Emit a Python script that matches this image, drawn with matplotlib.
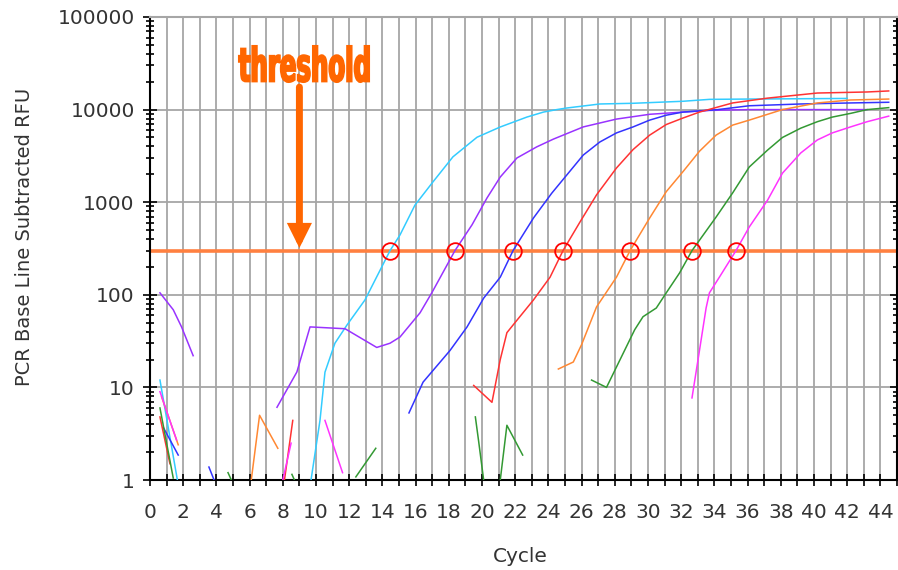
import matplotlib
matplotlib.use('Agg')
import matplotlib.pyplot as plt
import matplotlib.transforms as mtransforms
from matplotlib.ticker import FixedLocator, FixedFormatter, LogLocator, NullFormatter
from matplotlib.textpath import TextPath
from matplotlib.patches import PathPatch
from matplotlib.font_manager import FontProperties

# ---- data (cycle, RFU) ----
threshold = 300
ct_values = [14.46, 18.37, 21.87, 24.88, 28.92, 32.65, 35.3]

cyan_segments = [
    ([0.6, 1.65], [12, 1.0]),
    ([9.7, 10.24, 10.54, 11.14, 11.86, 12.95, 14.46, 15.06, 15.96, 17.05, 18.25,
      19.7, 21.08, 22.7, 23.7, 24.5, 25.1, 27.1, 29.1, 32.1, 33.7, 36.1, 42.0],
     [1.0, 4.4, 14.6, 30, 47, 88, 300, 443, 930, 1660, 3090,
      5030, 6470, 8300, 9400, 10000, 10400, 11500, 11700, 12300, 12900, 13000, 13200]),
]
purple_segments = [
    ([0.6, 1.4, 1.9, 2.6], [105, 69, 45, 22]),
    ([7.65, 8.85, 9.64, 11.75, 13.66, 14.46, 15.06, 16.27, 17.0, 18.37, 19.4,
      20.3, 21.1, 22.1, 23.3, 24.3, 26.1, 28.1, 30.1, 32.1, 33.7, 36.1, 40.2, 43.2],
     [6.1, 14.7, 45, 43, 27, 30, 35, 64, 107, 300, 570,
      1110, 1870, 3000, 3960, 4800, 6500, 7900, 8900, 9400, 9800, 10000, 10000, 10000]),
]
blue_segments = [
    ([0.8, 1.7], [3.7, 1.86]),
    ([3.55, 3.86], [1.38, 1.0]),
    ([15.6, 16.45, 18.07, 19.1, 20.1, 21.1, 21.87, 23.1, 24.2, 25.1, 26.1, 27.1,
      28.1, 29.1, 30.1, 31.1, 32.1, 34.2, 36.1, 39.2, 42.2, 44.5],
     [5.3, 11.4, 25, 45, 92, 155, 300, 675, 1250, 1960, 3230, 4470,
      5600, 6500, 7700, 8700, 9400, 10000, 11000, 11500, 11800, 12000]),
]
red_segments = [
    ([0.6, 1.2], [4.8, 1.5]),
    ([8.1, 8.6], [1.0, 4.4]),
    ([19.5, 20.6, 21.1, 21.5, 22.1, 23.1, 24.1, 24.88, 25.9, 26.9, 28.1, 29.1,
      30.1, 31.1, 32.1, 33.1, 35.1, 37.2, 40.2, 43.2, 44.5],
     [10.5, 6.9, 20, 39, 53, 88, 155, 300, 610, 1200, 2340, 3700,
      5300, 6900, 8100, 9400, 11800, 13300, 15100, 15500, 15900]),
]
orange_segments = [
    ([0.7, 1.7], [7.9, 2.4]),
    ([6.1, 6.6, 7.7], [1.0, 5.0, 2.2]),
    ([24.6, 25.5, 26.0, 26.9, 28.1, 28.92, 30.1, 31.1, 32.1, 33.1, 34.1, 35.1,
      36.1, 38.1, 40.2, 42.2, 44.5],
     [15.8, 18.8, 29, 74, 155, 300, 675, 1300, 2130, 3550, 5300, 6800,
      7700, 10000, 11800, 12700, 13000]),
]
green_segments = [
    ([0.6, 1.4], [6.0, 1.05]),
    ([4.7, 4.9], [1.2, 1.0]),
    ([8.55, 8.7], [1.15, 1.0]),
    ([12.4, 13.6], [1.08, 2.2]),
    ([19.6, 19.8, 20.1], [4.8, 2.6, 1.0]),
    ([21.1, 21.5, 22.45], [1.0, 3.9, 1.86]),
    ([26.6, 27.5, 28.1, 29.2, 29.7, 30.5, 31.1, 31.9, 32.65, 34.1, 35.1, 36.1,
      37.2, 38.1, 39.2, 40.2, 41.1, 42.2, 43.2, 44.5],
     [12, 10, 16.6, 42, 58, 72, 105, 172, 300, 690, 1260, 2400,
      3650, 5000, 6300, 7400, 8300, 9100, 10000, 10500]),
]
magenta_segments = [
    ([0.6, 1.6], [9.0, 2.7]),
    ([8.0, 8.5], [1.0, 2.5]),
    ([10.54, 11.6], [4.4, 1.2]),
    ([32.65, 33.1, 33.5, 33.7, 34.3, 35.3, 36.1, 37.2, 38.1, 39.2, 40.2, 41.1,
      42.2, 43.2, 44.5],
     [7.7, 25, 72, 105, 155, 300, 540, 1050, 2060, 3400, 4700, 5600,
      6500, 7400, 8500]),
]

x_major = list(range(0, 45, 2))
y_major = [1, 10, 100, 1000, 10000, 100000]
y_labels = ['1', '10', '100', '1000', '10000', '100000']

samples = [
    (cyan_segments, '#33ccff'),
    (purple_segments, '#9933ff'),
    (blue_segments, '#3333ff'),
    (red_segments, '#ff3333'),
    (orange_segments, '#ff8833'),
    (green_segments, '#339933'),
    (magenta_segments, '#ff33ff'),
]

W, H = 898, 570
fig = plt.figure(figsize=(W / 100, H / 100), dpi=100)
ax = fig.add_axes([150 / W, 90 / H, 747 / W, 463 / H])
ax.set_yscale('log')
ax.set_xlim(0, 45)
ax.set_ylim(1, 100000)

# grid: every cycle vertically, every decade horizontally
for c in range(1, 45):
    ax.axvline(c, color='#a6a6a6', lw=1.3, zorder=0)
for v in y_major[1:]:
    ax.axhline(v, color='#a6a6a6', lw=1.3, zorder=0)

ax.axhline(threshold, color='#ff8040', lw=2.6, zorder=2)

for segs, col in samples:
    for xs, ys in segs:
        ax.plot(xs, ys, color=col, lw=1.1, zorder=3)

ax.plot(ct_values, [threshold] * len(ct_values), linestyle='none', marker='o',
        markersize=12, markerfacecolor='none', markeredgecolor='#ff0000',
        markeredgewidth=1.3, zorder=5)

# arrow pointing at the threshold line
ax.annotate('', xy=(9, 320), xytext=(9, 17500),
            arrowprops=dict(arrowstyle='-|>,head_length=1.0,head_width=0.5',
                            lw=5, color='#ff6600', shrinkA=0, shrinkB=0,
                            mutation_scale=10, joinstyle='miter'),
            zorder=6)

# squeezed "threshold" word, drawn as a path in pixel space
fp = FontProperties(family='DejaVu Sans', weight='bold')
tp = TextPath((0, 0), 'threshold', size=50, prop=fp)
ext = tp.get_extents()
sx = 130 / ext.width
sy = 36 / ext.height
tr = mtransforms.Affine2D().translate(-ext.x0, -ext.y0).scale(sx, sy).translate(239, H - 82)
fig.add_artist(PathPatch(tp, transform=tr, facecolor='#ff6600', edgecolor='#ff6600',
                         lw=1.5, zorder=10))

# ticks
ax.xaxis.set_major_locator(FixedLocator(x_major))
ax.xaxis.set_minor_locator(FixedLocator(list(range(1, 46, 2))))
ax.yaxis.set_major_locator(FixedLocator(y_major))
ax.yaxis.set_major_formatter(FixedFormatter(y_labels))
ax.yaxis.set_minor_locator(LogLocator(base=10, subs=range(2, 10)))
ax.yaxis.set_minor_formatter(NullFormatter())
ax.tick_params(axis='both', which='both', direction='inout', colors='black',
               labelcolor='#333333', labelsize=14.5, width=1.2)
ax.tick_params(axis='x', which='both', length=9, pad=12)
ax.tick_params(axis='y', which='major', length=10, pad=6, right=True)
ax.tick_params(axis='y', which='minor', length=6, right=True)

for side in ['left', 'bottom', 'right']:
    ax.spines[side].set_color('black')
    ax.spines[side].set_linewidth(1.5)
ax.spines['top'].set_color('#a6a6a6')
ax.spines['top'].set_linewidth(1.5)

fig.text(520 / W, 1 - 556 / H, 'Cycle', ha='center', va='center',
         fontsize=14.5, color='#333333')
fig.text(25 / W, 1 - 237 / H, 'PCR Base Line Subtracted RFU', ha='center',
         va='center', rotation=90, fontsize=14, color='#333333')

fig.savefig('out.png', dpi=100)
